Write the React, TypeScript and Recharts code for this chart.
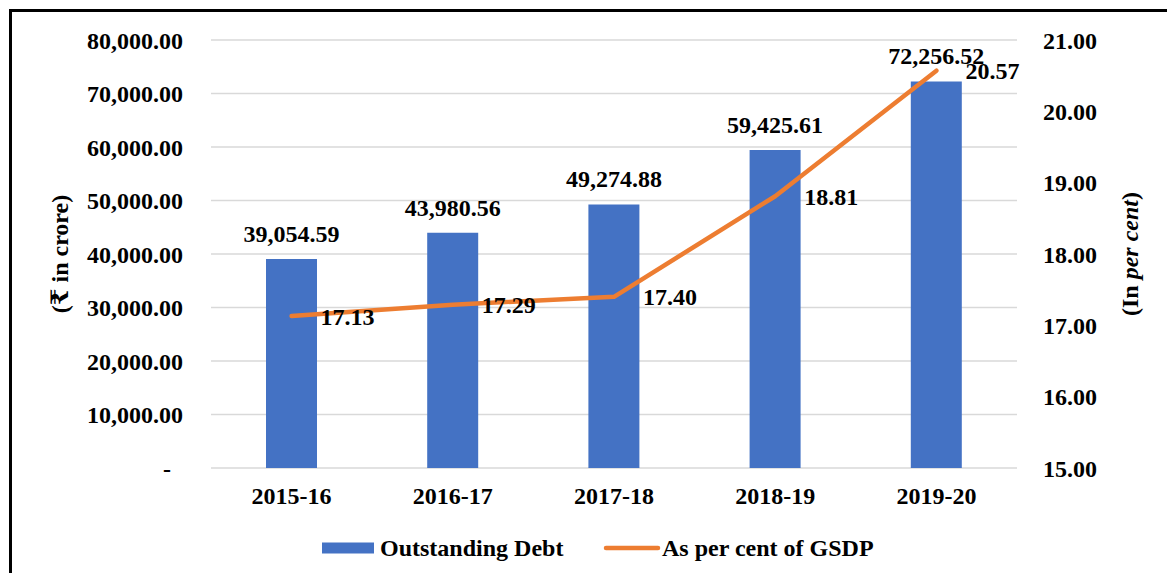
import React from 'react';
import { ComposedChart, Bar, Line, XAxis, YAxis, CartesianGrid, Legend, LabelList } from 'recharts';

const years = ['2015-16', '2016-17', '2017-18', '2018-19', '2019-20'];
const outstandingDebt = [39054.59, 43980.56, 49274.88, 59425.61, 72256.52];
const percentOfGSDP = [17.13, 17.29, 17.4, 18.81, 20.57];
const leftTicks = [0, 10000, 20000, 30000, 40000, 50000, 60000, 70000, 80000];
const rightTicks = [15, 16, 17, 18, 19, 20, 21];

const data = years.map((year, i) => ({ year, debt: outstandingDebt[i], pct: percentOfGSDP[i] }));

const FONT = '"Liberation Serif", "Times New Roman", "DejaVu Serif", serif';
const BLUE = '#4472C4';
const ORANGE = '#ED7D31';
const tickStyle = { fill: '#000', fontSize: 24, fontWeight: 'bold' as const, fontFamily: FONT };

const fmtDebt = (v: number) =>
  v === 0 ? '-\u00a0\u00a0' : v.toLocaleString('en-US', { minimumFractionDigits: 2, maximumFractionDigits: 2 });
const fmtPct = (v: number) => Number(v).toFixed(2);

const LegendContent = () => (
  <svg width={1166} height={30} style={{ display: 'block' }}>
    <rect x={314} y={9.5} width={52} height={11} fill={BLUE} />
    <text x={372} y={23} fontSize={24} fontWeight="bold" fontFamily={FONT} fill="#000">Outstanding Debt</text>
    <line x1={598} y1={15} x2={650} y2={15} stroke={ORANGE} strokeWidth={4.5} strokeLinecap="round" />
    <text x={654} y={23} fontSize={24} fontWeight="bold" fontFamily={FONT} fill="#000">As per cent of GSDP</text>
  </svg>
);

const LeftTitle = (props: any) => {
  const vb = props.viewBox || {};
  const cx = vb.x - 1;
  const cy = vb.y + vb.height / 2;
  return (
    <text x={cx} y={cy} transform={`rotate(-90 ${cx} ${cy})`} textAnchor="middle" dominantBaseline="central"
      fontSize={24} fontWeight="bold" fontFamily={FONT} fill="#000">(₹ in crore)</text>
  );
};

const RightTitle = (props: any) => {
  const vb = props.viewBox || {};
  const cx = vb.x + 113;
  const cy = vb.y + vb.height / 2;
  return (
    <text x={cx} y={cy} transform={`rotate(-90 ${cx} ${cy})`} textAnchor="middle" dominantBaseline="central"
      fontSize={24} fontWeight="bold" fontFamily={FONT} fill="#000">
      (In <tspan fontStyle="italic">per cent</tspan>)
    </text>
  );
};

export default function App() {
  return (
    <div style={{ position: 'relative', width: 1166, height: 573, marginBottom: -8, fontFamily: FONT }}>
      <div style={{ position: 'absolute', left: 1, top: 1, width: 1165, height: 572, boxSizing: 'border-box',
        borderLeft: '3px solid #000', borderTop: '3px solid #000', borderRight: '1px solid #aaa' }} />
      <div style={{ position: 'absolute', left: 0, top: 0 }}>
        <ComposedChart width={1166} height={573} data={data} margin={{ top: 32, left: 53, right: 57, bottom: 18 }}>
          <CartesianGrid yAxisId="left" vertical={false} stroke="#d9d9d9" strokeWidth={1.5} />
          <XAxis dataKey="year" axisLine={false} tickLine={false} tickSize={0} tickMargin={19} height={65} tick={tickStyle} interval={0} />
          <YAxis yAxisId="left" orientation="left" width={150} domain={[0, 80000]} ticks={leftTicks} interval={0}
            axisLine={false} tickLine={false} tickSize={0} tickMargin={28} tick={tickStyle} tickFormatter={fmtDebt}
            label={<LeftTitle />} />
          <YAxis yAxisId="right" orientation="right" width={100} domain={[15, 21]} ticks={rightTicks} interval={0}
            axisLine={false} tickLine={false} tickSize={0} tickMargin={26} tick={tickStyle} tickFormatter={fmtPct}
            label={<RightTitle />} />
          <Legend verticalAlign="bottom" content={<LegendContent />} wrapperStyle={{ left: 0, width: 1166 }} />
          <Bar yAxisId="left" dataKey="debt" name="Outstanding Debt" fill={BLUE} barSize={51} isAnimationActive={false}>
            <LabelList dataKey="debt" position="top" offset={17} formatter={(v: any) => fmtDebt(Number(v))}
              style={{ fill: '#000', fontSize: 24, fontWeight: 'bold', fontFamily: FONT }} />
          </Bar>
          <Line yAxisId="right" dataKey="pct" name="As per cent of GSDP" type="linear" stroke={ORANGE} strokeWidth={4.5}
            strokeLinecap="round" strokeLinejoin="round" dot={false} activeDot={false} isAnimationActive={false}>
            <LabelList dataKey="pct" position="right" offset={29} formatter={(v: any) => fmtPct(Number(v))}
              style={{ fill: '#000', fontSize: 24, fontWeight: 'bold', fontFamily: FONT }} />
          </Line>
        </ComposedChart>
      </div>
    </div>
  );
}
